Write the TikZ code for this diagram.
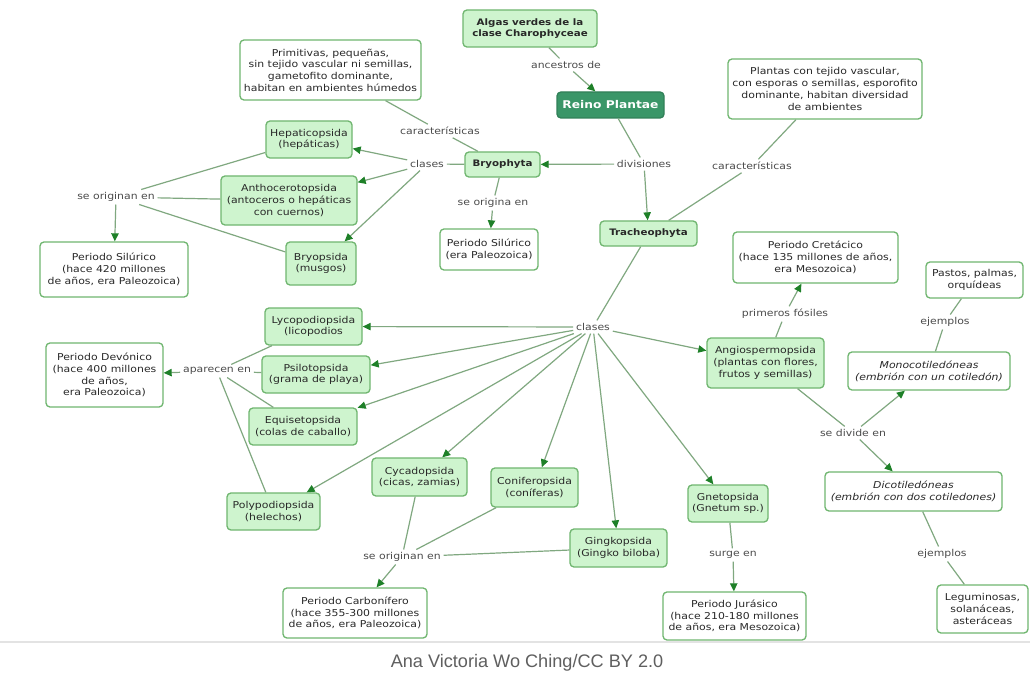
\documentclass[tikz,border=0pt]{standalone}
\usepackage{fontspec}
\setmainfont{DejaVu Sans}[FakeStretch=1.15]
\newfontfamily\capfont{Liberation Sans}
\usetikzlibrary{arrows.meta}
\definecolor{boxfill}{RGB}{206,244,206}
\definecolor{boxdraw}{RGB}{112,182,112}
\definecolor{reinofill}{RGB}{58,150,104}
\definecolor{linec}{RGB}{128,168,128}
\definecolor{arrowc}{RGB}{30,128,40}
\definecolor{txt}{RGB}{40,40,40}
\definecolor{labtxt}{RGB}{75,75,75}
\definecolor{captxt}{RGB}{95,95,95}
\tikzset{
  base/.style={rounded corners=3pt, line width=1pt, align=center, inner sep=1pt, text=txt,
    font=\fontsize{7.1}{8.8}\selectfont},
  gbox/.style={base, draw=boxdraw, fill=boxfill},
  wbox/.style={base, draw=boxdraw, fill=white},
  boldtxt/.style={font=\fontsize{6.7}{8.4}\selectfont\bfseries},
  ittxt/.style={font=\fontsize{7.1}{8.8}\selectfont\itshape},
  reinobox/.style={rounded corners=3pt, line width=1pt, draw=reinofill!85!black, fill=reinofill,
    text=white, font=\fontsize{8}{9}\selectfont\bfseries, inner sep=1pt},
  lab/.style={text=labtxt, font=\fontsize{7.1}{8.8}\selectfont, inner sep=2pt},
  conn/.style={draw=linec, line width=0.9pt},
  arr/.style={conn, -{Triangle[length=6pt,width=5.5pt,color=arrowc]}},
}
\begin{document}
\begin{tikzpicture}[x=0.75pt,y=-0.75pt]
\useasboundingbox[fill=white] (0,0) rectangle (1030,677);
% separator and caption
\draw[gray!22, line width=0.8pt] (0,642) -- (1030,642);
\node[text=captxt, font=\capfont\fontsize{13.6}{15}\selectfont, inner sep=0pt] (cap) at (527,663) {Ana Victoria Wo Ching/CC BY 2.0};

% boxes
\node[gbox, boldtxt, minimum width=100.5pt, minimum height=27.75pt] (algas) at (530,28.5) {Algas verdes de la\\clase Charophyceae};
\node[reinobox, minimum width=80.25pt, minimum height=19.5pt] (reino) at (610.5,105) {Reino Plantae};
\node[wbox, minimum width=135.75pt, minimum height=45pt] (primitivas) at (330.5,70) {Primitivas, pequeñas,\\sin tejido vascular ni semillas,\\gametofito dominante,\\habitan en ambientes húmedos};
\node[wbox, minimum width=145.5pt, minimum height=45pt] (plantas) at (825,89) {Plantas con tejido vascular,\\con esporas o semillas, esporofito\\dominante, habitan diversidad\\de ambientes};
\node[gbox, minimum width=64.5pt, minimum height=27.75pt] (hepatico) at (309,139.5) {Hepaticopsida\\(hepáticas)};
\node[gbox, boldtxt, minimum width=56.25pt, minimum height=18.75pt] (bryophyta) at (502.5,164.5) {Bryophyta};
\node[gbox, minimum width=102pt, minimum height=36.75pt] (anthocero) at (289,200.5) {Anthocerotopsida\\(antoceros o hepáticas\\con cuernos)};
\node[gbox, boldtxt, minimum width=72.75pt, minimum height=18.75pt] (tracheo) at (648.5,233.5) {Tracheophyta};
\node[wbox, minimum width=73.5pt, minimum height=30.75pt] (silurico2) at (489,249.5) {Periodo Silúrico\\(era Paleozoica)};
\node[gbox, minimum width=52.5pt, minimum height=32.25pt] (bryopsida) at (321,263.5) {Bryopsida\\(musgos)};
\node[wbox, minimum width=111pt, minimum height=41.25pt] (silurico1) at (114,269.5) {Periodo Silúrico\\(hace 420 millones\\de años, era Paleozoica)};
\node[wbox, minimum width=123.75pt, minimum height=38.25pt] (cretacico) at (815.5,257.5) {Periodo Cretácico\\(hace 135 millones de años,\\era Mesozoica)};
\node[wbox, minimum width=72.75pt, minimum height=27pt] (pastos) at (974.5,280) {Pastos, palmas,\\orquídeas};
\node[gbox, minimum width=72.75pt, minimum height=27.75pt] (lycopo) at (313.5,326.5) {Lycopodiopsida\\(licopodios};
\node[gbox, minimum width=87.75pt, minimum height=37.5pt] (angio) at (765.5,363) {Angiospermopsida\\(plantas con flores,\\frutos y semillas)};
\node[wbox, ittxt, minimum width=121.5pt, minimum height=28.5pt] (mono) at (929,371) {Monocotiledóneas\\(embrión con un cotiledón)};
\node[wbox, minimum width=87.75pt, minimum height=48pt] (devonico) at (104.5,375) {Periodo Devónico\\(hace 400 millones\\de años,\\era Paleozoica)};
\node[gbox, minimum width=81pt, minimum height=27.75pt] (psiloto) at (316,374.5) {Psilotopsida\\(grama de playa)};
\node[gbox, minimum width=81pt, minimum height=27.75pt] (equise) at (303,426.5) {Equisetopsida\\(colas de caballo)};
\node[gbox, minimum width=71.25pt, minimum height=28.5pt] (cycado) at (419.5,477) {Cycadopsida\\(cicas, zamias)};
\node[gbox, minimum width=65.25pt, minimum height=29.25pt] (conifero) at (534.5,487.5) {Coniferopsida\\(coníferas)};
\node[wbox, ittxt, minimum width=132.75pt, minimum height=29.25pt] (dico) at (913.5,491.5) {Dicotiledóneas\\(embrión con dos cotiledones)};
\node[gbox, minimum width=60pt, minimum height=27.75pt] (gneto) at (728,503.5) {Gnetopsida\\(Gnetum sp.)};
\node[gbox, minimum width=69.75pt, minimum height=27.75pt] (polypo) at (273.5,511.5) {Polypodiopsida\\(helechos)};
\node[gbox, minimum width=72.75pt, minimum height=28.5pt] (gingko) at (618.5,548) {Gingkopsida\\(Gingko biloba)};
\node[wbox, minimum width=108pt, minimum height=37.5pt] (carbon) at (355,613) {Periodo Carbonífero\\(hace 355-300 millones\\de años, era Paleozoica)};
\node[wbox, minimum width=107.25pt, minimum height=36pt] (jurasico) at (734.5,616) {Periodo Jurásico\\(hace 210-180 millones\\de años, era Mesozoica)};
\node[wbox, minimum width=68.25pt, minimum height=36pt] (legum) at (982.5,609) {Leguminosas,\\solanáceas,\\asteráceas};

% linking phrases
\node[lab] (ancestros) at (566,65) {ancestros de};
\node[lab] (car1) at (440,131) {características};
\node[lab] (clases1) at (427,164) {clases};
\node[lab] (divisiones) at (644,164) {divisiones};
\node[lab] (car2) at (752,166) {características};
\node[lab] (origina) at (493,203) {se origina en};
\node[lab] (originan1) at (116,197) {se originan en};
\node[lab] (clases2) at (593,327) {clases};
\node[lab] (primeros) at (785,314) {primeros fósiles};
\node[lab] (ejemplos1) at (945,322) {ejemplos};
\node[lab] (aparecen) at (217,371) {aparecen en};
\node[lab] (divide) at (853,433) {se divide en};
\node[lab] (originan2) at (402,557) {se originan en};
\node[lab] (surge) at (733,555) {surge en};
\node[lab] (ejemplos2) at (942,554) {ejemplos};

% connectors
\draw[conn] (algas) -- (ancestros);
\draw[arr] (ancestros) -- (reino);
\draw[conn] (reino) -- (divisiones);
\draw[arr] (divisiones) -- (bryophyta);
\draw[arr] (divisiones) -- (tracheo);
\draw[conn] (bryophyta) -- (car1);
\draw[conn] (car1) -- (primitivas);
\draw[conn] (bryophyta) -- (clases1);
\draw[arr] (clases1) -- (hepatico);
\draw[arr] (clases1) -- (anthocero);
\draw[arr] (clases1) -- (bryopsida);
\draw[conn] (bryophyta) -- (origina);
\draw[arr] (origina) -- (silurico2);
\draw[conn] (hepatico) -- (originan1);
\draw[conn] (anthocero) -- (originan1);
\draw[conn] (bryopsida) -- (originan1);
\draw[arr] (originan1) -- (silurico1);
\draw[conn] (tracheo) -- (car2);
\draw[conn] (car2) -- (plantas);
\draw[conn] (tracheo) -- (clases2);
\foreach \t in {lycopo,psiloto,equise,polypo,cycado,conifero,gingko,gneto,angio}
  \draw[arr] (clases2) -- (\t);
\foreach \s in {lycopo,psiloto,equise,polypo}
  \draw[conn] (\s) -- (aparecen);
\draw[arr] (aparecen) -- (devonico);
\foreach \s in {cycado,conifero,gingko}
  \draw[conn] (\s) -- (originan2);
\draw[arr] (originan2) -- (carbon);
\draw[conn] (gneto) -- (surge);
\draw[arr] (surge) -- (jurasico);
\draw[conn] (angio) -- (primeros);
\draw[arr] (primeros) -- (cretacico);
\draw[conn] (angio) -- (divide);
\draw[arr] (divide) -- (mono);
\draw[arr] (divide) -- (dico);
\draw[conn] (mono) -- (ejemplos1);
\draw[conn] (ejemplos1) -- (pastos);
\draw[conn] (dico) -- (ejemplos2);
\draw[conn] (ejemplos2) -- (legum);
\end{tikzpicture}
\end{document}
